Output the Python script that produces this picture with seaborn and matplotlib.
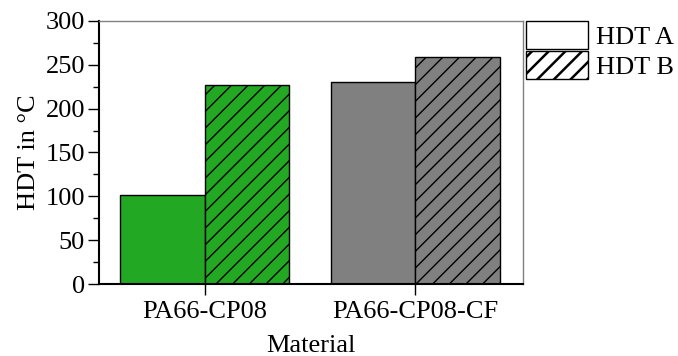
import matplotlib
matplotlib.use("Agg")
import matplotlib.pyplot as plt
import seaborn as sns
import pandas as pd
from matplotlib.patches import Patch
from matplotlib.ticker import MultipleLocator

materials = ["PA66-CP08", "PA66-CP08-CF"]
hdt_a = [101, 230]
hdt_b = [227, 259]
series = ["HDT A", "HDT B"]
material_colors = ["#22a822", "#808080"]
hatches = ["", "//"]

df = pd.DataFrame({
    "Material": materials * 2,
    "HDT": hdt_a + hdt_b,
    "Type": [series[0]] * 2 + [series[1]] * 2,
})

sns.set_style("ticks")
plt.rcParams["font.family"] = ["Liberation Serif", "DejaVu Serif"]
plt.rcParams["hatch.linewidth"] = 1.0
plt.rcParams["text.color"] = "black"
plt.rcParams["axes.labelcolor"] = "black"
plt.rcParams["xtick.color"] = "black"
plt.rcParams["ytick.color"] = "black"

fig = plt.figure(figsize=(6.78, 3.56), dpi=100)
ax = fig.add_axes([0.146, 0.2022, 0.625, 0.739])

sns.barplot(data=df, x="Material", y="HDT", hue="Type", order=materials,
            hue_order=series, palette=["#ffffff", "#ffffff"], width=0.8,
            edgecolor="black", linewidth=1.0, ax=ax, legend=False)

bars = [p for p in ax.patches if p.get_height() > 0]
bars.sort(key=lambda p: p.get_x())
for i, p in enumerate(bars):
    cat = i // 2
    hue = i % 2
    p.set_facecolor(material_colors[cat])
    p.set_hatch(hatches[hue])
    p.set_edgecolor("black")

ax.set_ylim(0, 300)
ax.set_xlim(-0.502, 1.51)
ax.yaxis.set_major_locator(MultipleLocator(50))
ax.yaxis.set_minor_locator(MultipleLocator(25))
ax.tick_params(axis="both", which="major", labelsize=19, length=8, width=1.0,
               color="black", labelcolor="black", direction="out", pad=2)
ax.tick_params(axis="x", which="major", pad=4)
ax.tick_params(axis="y", which="minor", length=4, width=1.0)
ax.set_xlabel("Material", fontsize=19, labelpad=9)
ax.set_ylabel("HDT in °C", fontsize=19, labelpad=4)

for s in ["left", "bottom"]:
    ax.spines[s].set_color("black")
    ax.spines[s].set_linewidth(1.5)
for s in ["top", "right"]:
    ax.spines[s].set_visible(True)
    ax.spines[s].set_color("#808080")
    ax.spines[s].set_linewidth(1.0)

with plt.rc_context({"hatch.linewidth": 1.8}):
    handles = [Patch(facecolor="white", edgecolor="black", hatch=h,
                     linewidth=1.0) for h in hatches]
    leg = ax.legend(handles, series, loc="upper left", bbox_to_anchor=(1.008, 1.0),
                    frameon=False, fontsize=19, handlelength=2.35, handleheight=1.25,
                    labelspacing=0.1, handletextpad=0.3, borderaxespad=0.0,
                    borderpad=0.0)
    for h in leg.legend_handles:
        if hasattr(h, "set_hatch_linewidth"):
            h.set_hatch_linewidth(1.8)

fig.savefig("out.png", dpi=100)
